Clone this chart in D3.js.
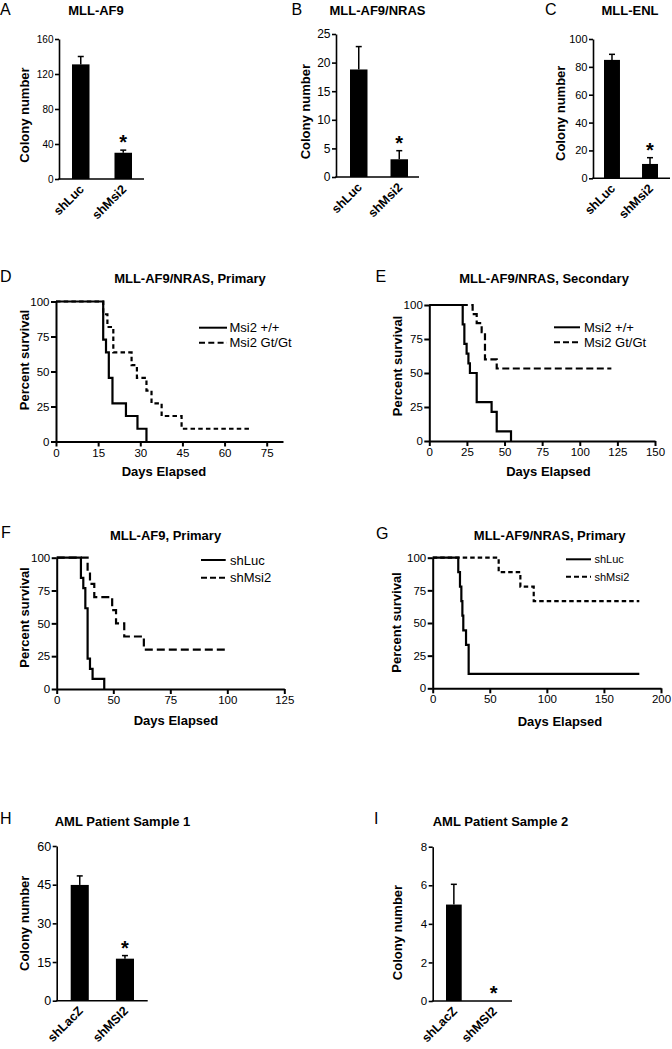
<!DOCTYPE html>
<html><head><meta charset="utf-8">
<script src="https://cdn.jsdelivr.net/npm/d3@7"></script>
<style>
body{margin:0;background:#fff}
svg{display:block;background:#fff}
text{font-family:"Liberation Sans",Arial,Helvetica,sans-serif;fill:#000}
</style>
</head><body>
<svg id="c" width="672" height="1049"></svg>
<script>
// ---------------- DATA ----------------
// Panel A: MLL-AF9 colonies
const aCats = ["shLuc", "shMsi2"];
const aVals = [131, 30];
const aErrTop = [140, 33];
const aTicks = [0, 40, 80, 120, 160];
// Panel B: MLL-AF9/NRAS colonies
const bCats = ["shLuc", "shMsi2"];
const bVals = [18.8, 3.1];
const bErrTop = [22.8, 4.6];
const bTicks = [0, 5, 10, 15, 20, 25];
// Panel C: MLL-ENL colonies
const cCats = ["shLuc", "shMsi2"];
const cVals = [85, 10.3];
const cErrTop = [89, 14.8];
const cTicks = [0, 20, 40, 60, 80, 100];
// Panel H: AML patient sample 1
const hCats = ["shLacZ", "shMSI2"];
const hVals = [44.9, 16.3];
const hErrTop = [48.4, 17.5];
const hTicks = [0, 15, 30, 45, 60];
// Panel I: AML patient sample 2
const iCats = ["shLacZ", "shMSI2"];
const iVals = [5, 0];
const iErrTop = [6.05, null];
const iTicks = [0, 2, 4, 6, 8];

// Survival curves (days, percent survival)
const survTicks = [0, 25, 50, 75, 100];
// D: MLL-AF9/NRAS, Primary
const dDaysWt = [0, 16.8, 17.8, 18.8, 20.1, 24.9, 29, 32.2];
const dSurvWt = [100, 72.7, 63.6, 45.5, 27.3, 18.2, 9.1, 0];
const dDaysGt = [0, 16.8, 18.3, 20.4, 26.9, 28.8, 32.2, 34, 37.6, 44.7, 69.8];
const dSurvGt = [100, 90.9, 81.8, 63.6, 54.5, 45.5, 36.4, 27.3, 18.2, 9.1, 9.1];
const dXTicks = [0, 15, 30, 45, 60, 75];
// E: MLL-AF9/NRAS, Secondary
const eDaysWt = [0, 22.2, 23.3, 24.8, 26, 27, 31.5, 41.4, 44.8, 54.3];
const eSurvWt = [100, 85.7, 71.4, 64.3, 57.1, 50, 28.6, 21.4, 7.1, 0];
const eDaysGt = [0, 28.8, 31.5, 34.8, 37, 44.8, 121];
const eSurvGt = [100, 93.3, 86.7, 80, 60, 53.3, 53.3];
const eXTicks = [0, 25, 50, 75, 100, 125, 150];
// F: MLL-AF9, Primary
const fDaysLuc = [0, 21.4, 23.5, 25.3, 27.3, 29.4, 31.7, 42];
const fSurvLuc = [100, 84.6, 76.9, 61.5, 23.1, 15.4, 7.7, 0];
const fDaysMsi = [0, 27.3, 29.4, 33.2, 49, 51.2, 54.8, 63.4, 100.3];
const fSurvMsi = [100, 90, 80, 70, 60, 50, 40, 30, 30];
const fXTicks = [0, 50, 75, 100, 125];
// G: MLL-AF9/NRAS, Primary
const gDaysLuc = [0, 22.4, 23.9, 25.1, 26, 26.8, 29.2, 31.5, 181];
const gSurvLuc = [100, 88.9, 77.8, 66.7, 55.6, 44.4, 33.3, 11.1, 11.1];
const gDaysMsi = [0, 57.8, 76.8, 88.5, 181];
const gSurvMsi = [100, 88.9, 77.8, 66.7, 66.7];
const gXTicks = [0, 50, 100, 150, 200];

// ---------------- DRAWING ----------------
const svg = d3.select("#c");
svg.append("rect").attr("width", 672).attr("height", 1049).attr("fill", "#fff");

function label(g, txt, x, y, opts) {
  const t = g.append("text").attr("x", x).attr("y", y).text(txt);
  if (opts.anchor) t.attr("text-anchor", opts.anchor);
  t.style("font-size", opts.size + "px");
  if (opts.bold) t.style("font-weight", "bold");
  return t;
}
function yLabel(g, txt, cx, cy) {
  g.append("text")
    .attr("transform", `translate(${cx},${cy}) rotate(-90)`)
    .attr("text-anchor", "middle").attr("dy", "0.27em")
    .style("font-size", "13px").style("font-weight", "bold")
    .text(txt);
}
function styleAxis(ax, sw, fs) {
  ax.select(".domain").attr("stroke", "#000").attr("stroke-width", sw);
  ax.selectAll(".tick line").attr("stroke", "#000").attr("stroke-width", sw);
  ax.selectAll(".tick text").attr("fill", "#000")
    .style("font-family", '"Liberation Sans",Arial,sans-serif')
    .style("font-size", fs + "px");
}

function barPanel(p) {
  const g = svg.append("g");
  const y = d3.scaleLinear().domain([0, d3.max(p.ticks)]).range([p.y0, p.y1]);
  const x = d3.scaleBand().domain(p.cats).range(p.band).paddingInner(p.pad).paddingOuter(0);
  const bw = x.bandwidth();
  g.selectAll("rect.bar").data(p.vals).join("rect")
    .attr("x", (d, i) => x(p.cats[i])).attr("width", bw)
    .attr("y", d => y(d)).attr("height", d => y(0) - y(d)).attr("fill", "#000");
  p.err.forEach((e, i) => {
    if (e == null) return;
    const cx = x(p.cats[i]) + bw / 2;
    g.append("line").attr("x1", cx).attr("x2", cx).attr("y1", y(p.vals[i])).attr("y2", y(e))
      .attr("stroke", "#000").attr("stroke-width", 1.5);
    g.append("line").attr("x1", cx - 3).attr("x2", cx + 3).attr("y1", y(e)).attr("y2", y(e))
      .attr("stroke", "#000").attr("stroke-width", 1.5);
  });
  const ax = g.append("g").attr("transform", `translate(${p.ax},0)`)
    .call(d3.axisLeft(y).tickValues(p.ticks).tickSize(4).tickSizeOuter(0).tickPadding(1.5));
  styleAxis(ax, 1.6, p.fs);
  g.append("line").attr("x1", p.ax - 0.8).attr("x2", p.axEnd).attr("y1", y(0)).attr("y2", y(0))
    .attr("stroke", "#000").attr("stroke-width", 1.6);
  p.cats.forEach((c, i) => {
    const cx = x(c) + bw / 2;
    g.append("text").attr("transform", `translate(${cx + 4},${y(0) + 11}) rotate(-45)`)
      .attr("text-anchor", "end").style("font-weight", "bold").style("font-size", "12.5px").text(c);
  });
  // significance star over second bar
  const si = 1;
  const top = p.err[si] != null ? y(p.err[si]) : y(p.vals[si]);
  label(g, "*", x(p.cats[si]) + bw / 2, top + p.starDy, {anchor: "middle", size: 20, bold: true});
  label(g, p.title, p.titleX, p.titleY, {anchor: "middle", size: 13, bold: true});
  label(g, p.letter, p.letterX, p.letterY, {size: 16});
  yLabel(g, "Colony number", p.ylx, p.yly);
}

function survPanel(p) {
  const g = svg.append("g");
  const x = d3.scaleLinear().domain(p.xDom).range(p.xRange);
  const y = d3.scaleLinear().domain([0, 100]).range([p.y0, p.y1]);
  const line = d3.line().x(d => x(d[0])).y(d => y(d[1])).curve(d3.curveStepAfter);
  p.series.forEach(s => {
    g.append("path").attr("d", line(d3.zip(s.days, s.surv)))
      .attr("fill", "none").attr("stroke", "#000").attr("stroke-width", 2.2)
      .attr("stroke-dasharray", s.dash);
  });
  const ay = g.append("g").attr("transform", `translate(${p.xRange[0]},0)`)
    .call(d3.axisLeft(y).tickValues(survTicks).tickSize(5).tickSizeOuter(0).tickPadding(1.5));
  styleAxis(ay, 2, p.fs);
  const axb = g.append("g").attr("transform", `translate(0,${p.y0})`)
    .call(d3.axisBottom(x).tickValues(p.xTicks).tickFormat(d3.format("d")).tickSize(5).tickSizeOuter(0).tickPadding(2));
  styleAxis(axb, 2, p.fs);
  // legend
  p.series.forEach((s, i) => {
    const ly = p.leg.y[i];
    g.append("line").attr("x1", p.leg.x0).attr("x2", p.leg.x1).attr("y1", ly).attr("y2", ly)
      .attr("stroke", "#000").attr("stroke-width", 2).attr("stroke-dasharray", s.legDash || s.dash);
    label(g, s.name, p.leg.tx, ly + p.leg.fs * 0.36, {size: p.leg.fs});
  });
  label(g, p.title, p.titleX, p.titleY, {anchor: "middle", size: 13, bold: true});
  label(g, p.letter, p.letterX, p.letterY, {size: 16});
  yLabel(g, "Percent survival", p.ylx, p.yly);
  label(g, "Days Elapsed", p.dx, p.dy, {anchor: "middle", size: 13, bold: true});
}

barPanel({cats: aCats, vals: aVals, err: aErrTop, ticks: aTicks, y0: 179, y1: 39, band: [72, 132], pad: 0.588,
  ax: 59, axEnd: 144, fs: 10, starDy: -1, title: "MLL-AF9", titleX: 96, titleY: 14.5,
  letter: "A", letterX: 0, letterY: 15, ylx: 25.5, yly: 115});
barPanel({cats: bCats, vals: bVals, err: bErrTop, ticks: bTicks, y0: 177, y1: 34, band: [350, 408], pad: 0.568,
  ax: 336, axEnd: 419, fs: 12, starDy: -1, title: "MLL-AF9/NRAS", titleX: 377.5, titleY: 14.5,
  letter: "B", letterX: 291.5, letterY: 15, ylx: 306.7, yly: 111.7});
barPanel({cats: cCats, vals: cVals, err: cErrTop, ticks: cTicks, y0: 178.3, y1: 39, band: [604, 658], pad: 0.58,
  ax: 593, axEnd: 670, fs: 11, starDy: -1, title: "MLL-ENL", titleX: 630, titleY: 14.5,
  letter: "C", letterX: 545, letterY: 15, ylx: 561, yly: 113.3});
barPanel({cats: hCats, vals: hVals, err: hErrTop, ticks: hTicks, y0: 1000.7, y1: 846, band: [70.7, 134], pad: 0.6,
  ax: 56.7, axEnd: 147.7, fs: 12.5, starDy: -1, title: "AML Patient Sample 1", titleX: 122.5, titleY: 826,
  letter: "H", letterX: 0, letterY: 823.5, ylx: 25, yly: 923.3});
barPanel({cats: iCats, vals: iVals, err: iErrTop, ticks: iTicks, y0: 1001, y1: 846.7, band: [446, 501.5], pad: 0.605,
  ax: 432.7, axEnd: 512, fs: 11.5, starDy: -1, title: "AML Patient Sample 2", titleX: 500.5, titleY: 826,
  letter: "I", letterX: 374, letterY: 823.5, ylx: 398.5, yly: 932.5});

survPanel({xDom: [0, 80.8], xRange: [56, 283], y0: 441.5, y1: 301.5, xTicks: dXTicks, fs: 11.5,
  series: [{name: "Msi2 +/+", days: dDaysWt, surv: dSurvWt, dash: null},
           {name: "Msi2 Gt/Gt", days: dDaysGt, surv: dSurvGt, dash: "4.5,3.2", legDash: "6,3.3"}],
  leg: {x0: 199, x1: 227, tx: 229.5, y: [327.7, 342.7], fs: 13},
  title: "MLL-AF9/NRAS, Primary", titleX: 190, titleY: 283, letter: "D", letterX: 0, letterY: 281.7,
  ylx: 25.5, yly: 360, dx: 164, dy: 476});
survPanel({xDom: [0, 150], xRange: [429.3, 655], y0: 441, y1: 305, xTicks: eXTicks, fs: 11.5,
  series: [{name: "Msi2 +/+", days: eDaysWt, surv: eSurvWt, dash: null},
           {name: "Msi2 Gt/Gt", days: eDaysGt, surv: eSurvGt, dash: "7,3.5", legDash: "6,3"}],
  leg: {x0: 554, x1: 580, tx: 584, y: [327.3, 342.3], fs: 13},
  title: "MLL-AF9/NRAS, Secondary", titleX: 544, titleY: 283, letter: "E", letterX: 375.5, letterY: 282.3,
  ylx: 398, yly: 366, dx: 548.5, dy: 476});
survPanel({xDom: [0, 50, 125], xRange: [56.7, 113.3, 284.3], y0: 689, y1: 557.7, xTicks: fXTicks, fs: 11.5,
  series: [{name: "shLuc", days: fDaysLuc, surv: fSurvLuc, dash: null},
           {name: "shMsi2", days: fDaysMsi, surv: fSurvMsi, dash: "8,4", legDash: "6,3"}],
  leg: {x0: 201, x1: 225.7, tx: 230, y: [560, 577.7], fs: 13},
  title: "MLL-AF9, Primary", titleX: 165.5, titleY: 539.5, letter: "F", letterX: 1, letterY: 538.3,
  ylx: 25.5, yly: 617.5, dx: 176, dy: 724.5});
survPanel({xDom: [0, 200], xRange: [432.7, 661], y0: 688.3, y1: 557.7, xTicks: gXTicks, fs: 11.5,
  series: [{name: "shLuc", days: gDaysLuc, surv: gSurvLuc, dash: null},
           {name: "shMsi2", days: gDaysMsi, surv: gSurvMsi, dash: "4.5,3", legDash: "5,3"}],
  leg: {x0: 566, x1: 591, tx: 594.5, y: [559.3, 576.7], fs: 11},
  title: "MLL-AF9/NRAS, Primary", titleX: 549.7, titleY: 539.5, letter: "G", letterX: 376, letterY: 539,
  ylx: 397.7, yly: 622.5, dx: 560, dy: 726});
</script>
</body></html>
